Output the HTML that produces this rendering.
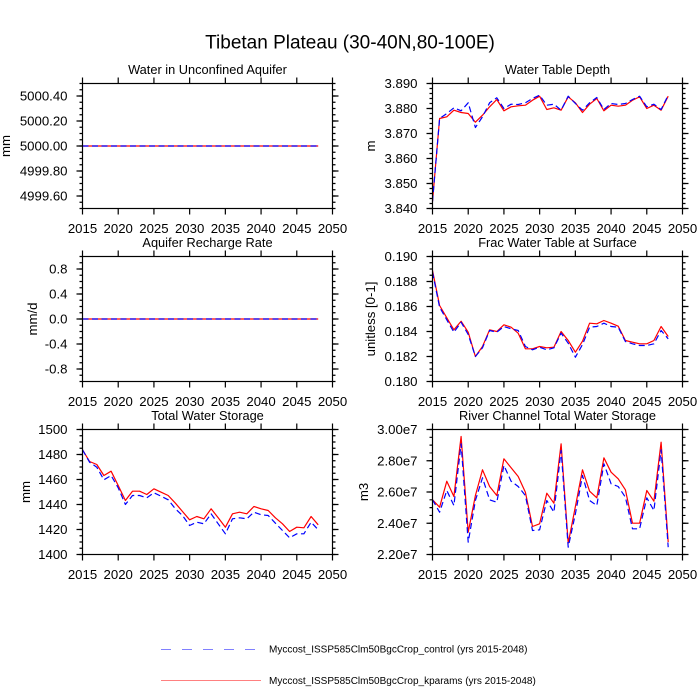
<!DOCTYPE html>
<html><head><meta charset="utf-8"><style>
html,body{margin:0;padding:0;background:#fff;}
svg{display:block;}
text{font-family:"Liberation Sans",Arial,Helvetica,sans-serif;fill:#000;}
.tl{font-size:13.2px;}
.yl{font-size:13.2px;text-anchor:end;}
.xl{font-size:13.2px;text-anchor:middle;}
.st{font-size:12.8px;text-anchor:middle;}
.al{font-size:13.2px;text-anchor:middle;}
.fr{fill:none;stroke:#000;stroke-width:1.2;}
.tk{stroke:#000;fill:none;}
.r{fill:none;stroke:#ff0000;stroke-width:1.2;stroke-linejoin:round;}
.b{fill:none;stroke:#0000ff;stroke-width:1.2;stroke-dasharray:6 3.5;stroke-linejoin:round;}
</style></head><body>
<svg width="700" height="700" viewBox="0 0 700 700" xmlns="http://www.w3.org/2000/svg">
<rect width="700" height="700" fill="#fff"/>
<text x="350" y="48.3" style="font-size:19px;text-anchor:middle">Tibetan Plateau (30-40N,80-100E)</text>

<!-- Panel 1 Left -->
<g transform="translate(82.5,83.5)">
<text class="st" x="125" y="-9.5">Water in Unconfined Aquifer</text>
<line class="tk" x1="-3" y1="11.9" x2="-3" y2="113.1" stroke-width="6" stroke-dasharray="1.2 23.8"/>
<line class="tk" x1="-1.5" y1="-0.6" x2="-1.5" y2="125.6" stroke-width="3" stroke-dasharray="1.2 5.05"/>
<line class="tk" x1="253" y1="11.9" x2="253" y2="113.1" stroke-width="6" stroke-dasharray="1.2 23.8"/>
<line class="tk" x1="251.5" y1="-0.6" x2="251.5" y2="125.6" stroke-width="3" stroke-dasharray="1.2 5.05"/>
<line class="tk" x1="-0.6" y1="128" x2="250.6" y2="128" stroke-width="6" stroke-dasharray="1.2 34.514"/>
<line class="tk" x1="-0.6" y1="-3" x2="250.6" y2="-3" stroke-width="6" stroke-dasharray="1.2 34.514"/>
<polyline class="r" points="0,62.5 235.7,62.5"/>
<polyline class="b" points="0,62.5 235.7,62.5"/>
<rect class="fr" x="0" y="0" width="250" height="125"/>
<text class="yl" x="-15" y="17.2">5000.40</text>
<text class="yl" x="-15" y="42.2">5000.20</text>
<text class="yl" x="-15" y="67.2">5000.00</text>
<text class="yl" x="-15" y="92.2">4999.80</text>
<text class="yl" x="-15" y="117.2">4999.60</text>
<g class="xl"><text class="xl" x="0" y="149.5">2015</text><text class="xl" x="35.71" y="149.5">2020</text><text class="xl" x="71.43" y="149.5">2025</text><text class="xl" x="107.14" y="149.5">2030</text><text class="xl" x="142.86" y="149.5">2035</text><text class="xl" x="178.57" y="149.5">2040</text><text class="xl" x="214.29" y="149.5">2045</text><text class="xl" x="250" y="149.5">2050</text></g>
<text class="al" transform="translate(-72.5,62.5) rotate(-90)">mm</text>
</g>

<!-- Panel 1 Right -->
<g transform="translate(432.5,83.5)">
<text class="st" x="125" y="-9.5">Water Table Depth</text>
<line class="tk" x1="-3" y1="-0.6" x2="-3" y2="125.6" stroke-width="6" stroke-dasharray="1.2 23.8"/>
<line class="tk" x1="-1.5" y1="-0.6" x2="-1.5" y2="125.6" stroke-width="3" stroke-dasharray="1.2 3.8"/>
<line class="tk" x1="253" y1="-0.6" x2="253" y2="125.6" stroke-width="6" stroke-dasharray="1.2 23.8"/>
<line class="tk" x1="251.5" y1="-0.6" x2="251.5" y2="125.6" stroke-width="3" stroke-dasharray="1.2 3.8"/>
<line class="tk" x1="-0.6" y1="128" x2="250.6" y2="128" stroke-width="6" stroke-dasharray="1.2 34.514"/>
<line class="tk" x1="-0.6" y1="-3" x2="250.6" y2="-3" stroke-width="6" stroke-dasharray="1.2 34.514"/>
<polyline class="r" points="0,118 7.1,35 14.3,33.3 21.4,26.7 28.6,29 35.7,30 42.9,38.7 50,31.7 57.1,23.3 64.3,16 71.4,27.3 78.6,23.3 85.7,22.3 92.9,21.7 100,16.7 107.1,12.7 114.3,26 121.4,24.3 128.6,26.7 135.7,13.3 142.9,19.3 150,29 157.1,20.7 164.3,15 171.4,27.3 178.6,21.7 185.7,22.7 192.9,21.7 200,16.7 207.1,13.3 214.3,25 221.4,21.7 228.6,26.7 235.7,12.7"/>
<polyline class="b" points="0,118 7.1,35 14.3,30 21.4,24.3 28.6,27.3 35.7,19.3 42.9,44 50,33.3 57.1,19.3 64.3,14.3 71.4,25 78.6,20.7 85.7,21 92.9,19.3 100,15 107.1,11.7 114.3,21.7 121.4,20.7 128.6,26.7 135.7,12.7 142.9,20 150,26.7 157.1,19.3 164.3,14 171.4,26 178.6,20 185.7,21 192.9,20 200,16 207.1,12.7 214.3,23.3 221.4,20.7 228.6,26 235.7,11.7"/>
<rect class="fr" x="0" y="0" width="250" height="125"/>
<text class="yl" x="-15" y="4.7">3.890</text>
<text class="yl" x="-15" y="29.7">3.880</text>
<text class="yl" x="-15" y="54.7">3.870</text>
<text class="yl" x="-15" y="79.7">3.860</text>
<text class="yl" x="-15" y="104.7">3.850</text>
<text class="yl" x="-15" y="129.7">3.840</text>
<text class="xl" x="0" y="149.5">2015</text><text class="xl" x="35.71" y="149.5">2020</text><text class="xl" x="71.43" y="149.5">2025</text><text class="xl" x="107.14" y="149.5">2030</text><text class="xl" x="142.86" y="149.5">2035</text><text class="xl" x="178.57" y="149.5">2040</text><text class="xl" x="214.29" y="149.5">2045</text><text class="xl" x="250" y="149.5">2050</text>
<text class="al" transform="translate(-57.5,62.5) rotate(-90)">m</text>
</g>

<!-- Panel 2 Left -->
<g transform="translate(82.5,256.5)">
<text class="st" x="125" y="-9.5">Aquifer Recharge Rate</text>
<line class="tk" x1="-3" y1="11.9" x2="-3" y2="113.1" stroke-width="6" stroke-dasharray="1.2 23.8"/>
<line class="tk" x1="-1.5" y1="-0.6" x2="-1.5" y2="125.6" stroke-width="3" stroke-dasharray="1.2 5.05"/>
<line class="tk" x1="253" y1="11.9" x2="253" y2="113.1" stroke-width="6" stroke-dasharray="1.2 23.8"/>
<line class="tk" x1="251.5" y1="-0.6" x2="251.5" y2="125.6" stroke-width="3" stroke-dasharray="1.2 5.05"/>
<line class="tk" x1="-0.6" y1="128" x2="250.6" y2="128" stroke-width="6" stroke-dasharray="1.2 34.514"/>
<line class="tk" x1="-0.6" y1="-3" x2="250.6" y2="-3" stroke-width="6" stroke-dasharray="1.2 34.514"/>
<polyline class="r" points="0,62.5 235.7,62.5"/>
<polyline class="b" points="0,62.5 235.7,62.5"/>
<rect class="fr" x="0" y="0" width="250" height="125"/>
<text class="yl" x="-15" y="17.2">0.8</text>
<text class="yl" x="-15" y="42.2">0.4</text>
<text class="yl" x="-15" y="67.2">0.0</text>
<text class="yl" x="-15" y="92.2">-0.4</text>
<text class="yl" x="-15" y="117.2">-0.8</text>
<text class="xl" x="0" y="149.5">2015</text><text class="xl" x="35.71" y="149.5">2020</text><text class="xl" x="71.43" y="149.5">2025</text><text class="xl" x="107.14" y="149.5">2030</text><text class="xl" x="142.86" y="149.5">2035</text><text class="xl" x="178.57" y="149.5">2040</text><text class="xl" x="214.29" y="149.5">2045</text><text class="xl" x="250" y="149.5">2050</text>
<text class="al" transform="translate(-45.5,62.5) rotate(-90)">mm/d</text>
</g>

<!-- Panel 2 Right -->
<g transform="translate(432.5,256.5)">
<text class="st" x="125" y="-9.5">Frac Water Table at Surface</text>
<line class="tk" x1="-3" y1="-0.6" x2="-3" y2="125.6" stroke-width="6" stroke-dasharray="1.2 23.8"/>
<line class="tk" x1="-1.5" y1="-0.6" x2="-1.5" y2="125.6" stroke-width="3" stroke-dasharray="1.2 5.05"/>
<line class="tk" x1="253" y1="-0.6" x2="253" y2="125.6" stroke-width="6" stroke-dasharray="1.2 23.8"/>
<line class="tk" x1="251.5" y1="-0.6" x2="251.5" y2="125.6" stroke-width="3" stroke-dasharray="1.2 5.05"/>
<line class="tk" x1="-0.6" y1="128" x2="250.6" y2="128" stroke-width="6" stroke-dasharray="1.2 34.514"/>
<line class="tk" x1="-0.6" y1="-3" x2="250.6" y2="-3" stroke-width="6" stroke-dasharray="1.2 34.514"/>
<polyline class="r" points="0,14 7.1,49 14.3,61.3 21.4,73.3 28.6,64.7 35.7,75.7 42.9,100 50,90 57.1,73.3 64.3,75 71.4,68.3 78.6,70.7 85.7,76.7 92.9,92.3 100,92.3 107.1,90 114.3,91.3 121.4,90.7 128.6,75 135.7,84 142.9,95.7 150,84.7 157.1,66.7 164.3,67.3 171.4,64 178.6,66.7 185.7,69.7 192.9,84 200,85.7 207.1,87.3 214.3,87.3 221.4,84 228.6,70 235.7,80"/>
<polyline class="b" points="0,15.7 7.1,50.7 14.3,63.3 21.4,75.7 28.6,65.7 35.7,78 42.9,100 50,91.3 57.1,74 64.3,75.7 71.4,70 78.6,72.3 85.7,74 92.9,90 100,93.3 107.1,90.7 114.3,93.3 121.4,91.3 128.6,76.7 135.7,86.7 142.9,100.7 150,88 157.1,70.7 164.3,70 171.4,66.7 178.6,70 185.7,70.7 192.9,85 200,87.3 207.1,89 214.3,89 221.4,87.3 228.6,74 235.7,82.3"/>
<rect class="fr" x="0" y="0" width="250" height="125"/>
<text class="yl" x="-15" y="4.7">0.190</text>
<text class="yl" x="-15" y="29.7">0.188</text>
<text class="yl" x="-15" y="54.7">0.186</text>
<text class="yl" x="-15" y="79.7">0.184</text>
<text class="yl" x="-15" y="104.7">0.182</text>
<text class="yl" x="-15" y="129.7">0.180</text>
<text class="xl" x="0" y="149.5">2015</text><text class="xl" x="35.71" y="149.5">2020</text><text class="xl" x="71.43" y="149.5">2025</text><text class="xl" x="107.14" y="149.5">2030</text><text class="xl" x="142.86" y="149.5">2035</text><text class="xl" x="178.57" y="149.5">2040</text><text class="xl" x="214.29" y="149.5">2045</text><text class="xl" x="250" y="149.5">2050</text>
<text class="al" transform="translate(-57.5,62.5) rotate(-90)">unitless [0-1]</text>
</g>

<!-- Panel 3 Left -->
<g transform="translate(82.5,429.5)">
<text class="st" x="125" y="-9.5">Total Water Storage</text>
<line class="tk" x1="-3" y1="-0.6" x2="-3" y2="125.6" stroke-width="6" stroke-dasharray="1.2 23.8"/>
<line class="tk" x1="-1.5" y1="-0.6" x2="-1.5" y2="125.6" stroke-width="3" stroke-dasharray="1.2 5.05"/>
<line class="tk" x1="253" y1="-0.6" x2="253" y2="125.6" stroke-width="6" stroke-dasharray="1.2 23.8"/>
<line class="tk" x1="251.5" y1="-0.6" x2="251.5" y2="125.6" stroke-width="3" stroke-dasharray="1.2 5.05"/>
<line class="tk" x1="-0.6" y1="128" x2="250.6" y2="128" stroke-width="6" stroke-dasharray="1.2 34.514"/>
<line class="tk" x1="-0.6" y1="-3" x2="250.6" y2="-3" stroke-width="6" stroke-dasharray="1.2 34.514"/>
<polyline class="r" points="0,20.3 7.1,32 14.3,35 21.4,46 28.6,41.7 35.7,56 42.9,71 50,61.7 57.1,61.7 64.3,65 71.4,59.3 78.6,62.7 85.7,66 92.9,73.7 100,82 107.1,90.3 114.3,87 121.4,89.3 128.6,79.3 135.7,88.3 142.9,97.7 150,84.3 157.1,82.7 164.3,84.3 171.4,77 178.6,79.3 185.7,81 192.9,88.3 200,94.3 207.1,102 214.3,97.7 221.4,98.3 228.6,87 235.7,95.3"/>
<polyline class="b" points="0,20.3 7.1,32.7 14.3,37.7 21.4,50.3 28.6,46 35.7,58.3 42.9,75 50,66 57.1,66 64.3,68.3 71.4,63.3 78.6,66.7 85.7,70.3 92.9,79.3 100,86 107.1,96 114.3,92.7 121.4,94.3 128.6,84.3 135.7,94.3 142.9,104.3 150,89.3 157.1,88.3 164.3,89.3 171.4,82.7 178.6,85.3 185.7,86 192.9,93.7 200,101 207.1,108.3 214.3,104.3 221.4,104.3 228.6,92.7 235.7,100.3"/>
<rect class="fr" x="0" y="0" width="250" height="125"/>
<text class="yl" x="-15" y="4.7">1500</text>
<text class="yl" x="-15" y="29.7">1480</text>
<text class="yl" x="-15" y="54.7">1460</text>
<text class="yl" x="-15" y="79.7">1440</text>
<text class="yl" x="-15" y="104.7">1420</text>
<text class="yl" x="-15" y="129.7">1400</text>
<text class="xl" x="0" y="149.5">2015</text><text class="xl" x="35.71" y="149.5">2020</text><text class="xl" x="71.43" y="149.5">2025</text><text class="xl" x="107.14" y="149.5">2030</text><text class="xl" x="142.86" y="149.5">2035</text><text class="xl" x="178.57" y="149.5">2040</text><text class="xl" x="214.29" y="149.5">2045</text><text class="xl" x="250" y="149.5">2050</text>
<text class="al" transform="translate(-52.5,62.5) rotate(-90)">mm</text>
</g>

<!-- Panel 3 Right -->
<g transform="translate(432.5,429.5)">
<text class="st" x="125" y="-9.5">River Channel Total Water Storage</text>
<line class="tk" x1="-3" y1="-0.6" x2="-3" y2="125.6" stroke-width="6" stroke-dasharray="1.2 30.05"/>
<line class="tk" x1="-1.5" y1="-0.6" x2="-1.5" y2="125.6" stroke-width="3" stroke-dasharray="1.2 6.6125"/>
<line class="tk" x1="253" y1="-0.6" x2="253" y2="125.6" stroke-width="6" stroke-dasharray="1.2 30.05"/>
<line class="tk" x1="251.5" y1="-0.6" x2="251.5" y2="125.6" stroke-width="3" stroke-dasharray="1.2 6.6125"/>
<line class="tk" x1="-0.6" y1="128" x2="250.6" y2="128" stroke-width="6" stroke-dasharray="1.2 34.514"/>
<line class="tk" x1="-0.6" y1="-3" x2="250.6" y2="-3" stroke-width="6" stroke-dasharray="1.2 34.514"/>
<polyline class="r" points="0,70.3 7.1,77.7 14.3,51.7 21.4,67 28.6,7 35.7,102.7 42.9,66 50,40.3 57.1,57 64.3,66 71.4,29.3 78.6,38.3 85.7,47 92.9,62.7 100,97 107.1,94.3 114.3,63.7 121.4,73.7 128.6,14.3 135.7,113.7 142.9,77 150,40.3 157.1,61.7 164.3,68.3 171.4,28.3 178.6,42.7 185.7,49.3 192.9,60.3 200,93.7 207.1,93.7 214.3,61 221.4,71.7 228.6,12.7 235.7,112.7"/>
<polyline class="b" points="0,70.3 7.1,82.7 14.3,61 21.4,76 28.6,14.3 35.7,112.7 42.9,71 50,48.3 57.1,70.3 64.3,72.7 71.4,36 78.6,51.7 85.7,57 92.9,66 100,101 107.1,100.3 114.3,71 121.4,82.7 128.6,21 135.7,117.7 142.9,84.3 150,46 157.1,71 164.3,76 171.4,34.3 178.6,54.3 185.7,57 192.9,67.7 200,99.3 207.1,99.3 214.3,68.3 221.4,81 228.6,20.3 235.7,117.7"/>
<rect class="fr" x="0" y="0" width="250" height="125"/>
<text class="yl" x="-15" y="4.7">3.00e7</text>
<text class="yl" x="-15" y="35.95">2.80e7</text>
<text class="yl" x="-15" y="67.2">2.60e7</text>
<text class="yl" x="-15" y="98.45">2.40e7</text>
<text class="yl" x="-15" y="129.7">2.20e7</text>
<text class="xl" x="0" y="149.5">2015</text><text class="xl" x="35.71" y="149.5">2020</text><text class="xl" x="71.43" y="149.5">2025</text><text class="xl" x="107.14" y="149.5">2030</text><text class="xl" x="142.86" y="149.5">2035</text><text class="xl" x="178.57" y="149.5">2040</text><text class="xl" x="214.29" y="149.5">2045</text><text class="xl" x="250" y="149.5">2050</text>
<text class="al" transform="translate(-64.5,62.5) rotate(-90)">m3</text>
</g>

<!-- Legend -->
<line x1="161" y1="649.5" x2="255" y2="649.5" stroke="#8080ff" stroke-width="1" stroke-dasharray="10 11"/>
<text x="269" y="652.6" style="font-size:10px">Myccost_ISSP585Clm50BgcCrop_control (yrs 2015-2048)</text>
<line x1="161" y1="680.5" x2="261" y2="680.5" stroke="#ff8080" stroke-width="1"/>
<text x="269" y="684.2" style="font-size:10px">Myccost_ISSP585Clm50BgcCrop_kparams (yrs 2015-2048)</text>
</svg>
</body></html>
